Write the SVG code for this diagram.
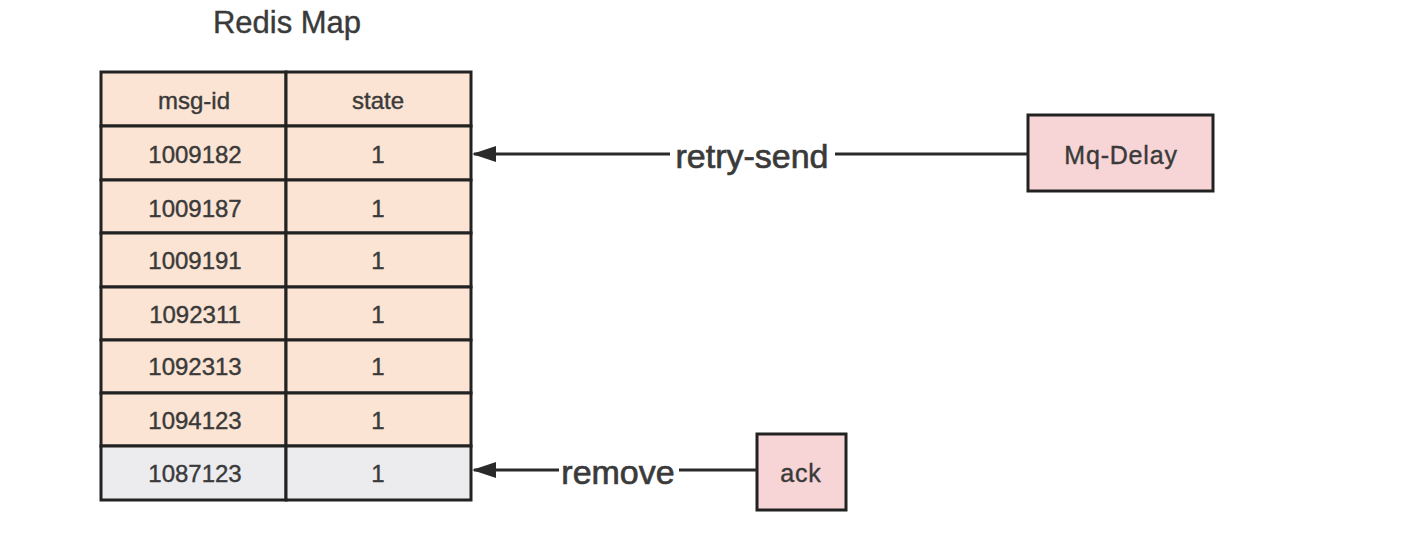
<svg xmlns="http://www.w3.org/2000/svg" width="1417" height="535" viewBox="0 0 1417 535">
<style>
text{font-family:"Liberation Sans",Arial,sans-serif;fill:#3a3a3a;stroke:#3a3a3a;stroke-width:0.4;text-anchor:middle;dominant-baseline:central}
.cell{fill:#fbe4d3;stroke:#222;stroke-width:3}
.gray{fill:#ececef;stroke:#222;stroke-width:3}
.box{fill:#f7d5d6;stroke:#222;stroke-width:3}
.t{font-size:24px}
.bt{font-size:25px;letter-spacing:0.8px}
.lbl{font-size:34px;stroke-width:0.7}
.edge{stroke:#2a2a2a;stroke-width:3;fill:none}
</style>
<defs>
<marker id="arr" viewBox="0 0 24 16" refX="22" refY="8" markerWidth="24" markerHeight="16" markerUnits="userSpaceOnUse" orient="auto">
<path d="M0,0 L24,8 L0,16 z" fill="#2a2a2a"/>
</marker>
</defs>
<rect width="1417" height="535" fill="#fff"/>
<text x="287" y="22" style="font-size:31px">Redis Map</text>
<g id="table">
<g id="row-header"><rect class="cell" x="101" y="72" width="185" height="54"/><rect class="cell" x="286" y="72" width="185" height="54"/><text class="t" x="194" y="100">msg-id</text><text class="t" x="378" y="100">state</text></g>
<g id="row1"><rect class="cell" x="101" y="126" width="185" height="54"/><rect class="cell" x="286" y="126" width="185" height="54"/><text class="t" x="195" y="154">1009182</text><text class="t" x="378" y="154">1</text></g>
<g id="row2"><rect class="cell" x="101" y="180" width="185" height="53"/><rect class="cell" x="286" y="180" width="185" height="53"/><text class="t" x="195" y="208">1009187</text><text class="t" x="378" y="208">1</text></g>
<g id="row3"><rect class="cell" x="101" y="233" width="185" height="54"/><rect class="cell" x="286" y="233" width="185" height="54"/><text class="t" x="195" y="260">1009191</text><text class="t" x="378" y="260">1</text></g>
<g id="row4"><rect class="cell" x="101" y="287" width="185" height="53"/><rect class="cell" x="286" y="287" width="185" height="53"/><text class="t" x="195" y="314">1092311</text><text class="t" x="378" y="314">1</text></g>
<g id="row5"><rect class="cell" x="101" y="340" width="185" height="53"/><rect class="cell" x="286" y="340" width="185" height="53"/><text class="t" x="195" y="366">1092313</text><text class="t" x="378" y="366">1</text></g>
<g id="row6"><rect class="cell" x="101" y="393" width="185" height="53"/><rect class="cell" x="286" y="393" width="185" height="53"/><text class="t" x="195" y="420">1094123</text><text class="t" x="378" y="420">1</text></g>
<g id="row7"><rect class="gray" x="101" y="446" width="185" height="54"/><rect class="gray" x="286" y="446" width="185" height="54"/><text class="t" x="195" y="473">1087123</text><text class="t" x="378" y="473">1</text></g>
</g>
<g id="mq-delay"><rect class="box" x="1028" y="115" width="185" height="76"/><text class="bt" x="1121" y="155">Mq-Delay</text></g>
<g id="ack"><rect class="box" x="757" y="434" width="89" height="76"/><text class="bt" x="801" y="473">ack</text></g>
<g id="connectors">
<path class="edge" d="M1028,154 L835,154 M670,154 L474,154" marker-end="url(#arr)"/>
<text class="lbl" x="752" y="156">retry-send</text>
<path class="edge" d="M757,470 L679,470 M559,470 L474,470" marker-end="url(#arr)"/>
<text class="lbl" x="618" y="472">remove</text>
</g>
</svg>
